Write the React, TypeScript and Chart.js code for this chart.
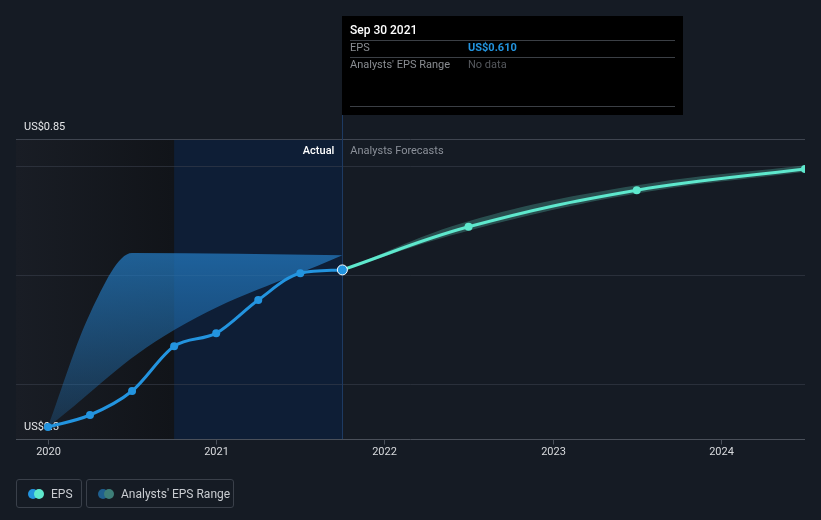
import React, { useEffect, useRef } from "react";
import { Chart, registerables } from "chart.js";

Chart.register(...registerables);

const actualX = [2020, 2020.25, 2020.5, 2020.75, 2021, 2021.25, 2021.5, 2021.75];
const actualEps = [0.322, 0.344, 0.388, 0.47, 0.494, 0.555, 0.604, 0.61];

const forecastX = [2021.75, 2022.5, 2023.5, 2024.5];
const forecastEps = [0.61, 0.689, 0.756, 0.795];
const forecastLow = [0.61, 0.682, 0.75, 0.79];
const forecastHigh = [0.61, 0.699, 0.765, 0.802];

const pastRangeX = [2020, 2020.25, 2020.5, 2021.75];
const pastRangeHigh = [0.322, 0.53, 0.641, 0.637];
const pastLowX = [2020, 2020.75, 2021.75];
const pastRangeLow = [0.322, 0.5, 0.637];

const yearTicks = [2020, 2021, 2022, 2023, 2024];
const gridValues = [0.4, 0.6, 0.8];
const yTop = 0.85;
const yBottom = 0.3;
const yTopLabel = "US$0.85";
const yBottomLabel = "US$0.3";
const xMin = 2019.81;
const xMax = 2024.5;
const highlightStart = 2020.75;
const lastActual = 2021.75;

const FONT = "Roboto, 'Open Sans', sans-serif";
const BLUE = "#2394df";
const TEAL = "#5ee8cd";

const pts = (xs: number[], ys: number[]) => xs.map((x, i) => ({ x, y: ys[i] }));

const bgPlugin = {
  id: "bgPlugin",
  beforeDatasetsDraw(chart: any) {
    const { ctx, chartArea, scales } = chart;
    const xs = scales.x;
    const ys = scales.y;
    const top = chartArea.top;
    const bottom = chartArea.bottom;
    const xl = chartArea.left;
    const xh = xs.getPixelForValue(highlightStart);
    const xa = xs.getPixelForValue(lastActual);
    ctx.save();
    const g = ctx.createLinearGradient(xl, 0, xh, 0);
    g.addColorStop(0, "rgba(25,29,37,1)");
    g.addColorStop(1, "rgba(17,20,25,1)");
    ctx.fillStyle = g;
    ctx.fillRect(xl, top, xh - xl, bottom - top);
    ctx.fillStyle = "#0e1e36";
    ctx.fillRect(xh, top, xa - xh, bottom - top);
    ctx.lineWidth = 1;
    gridValues.forEach((v) => {
      const y = Math.round(ys.getPixelForValue(v)) + 0.5;
      ctx.strokeStyle = "rgba(60,66,78,0.55)";
      ctx.beginPath();
      ctx.moveTo(xl, y);
      ctx.lineTo(chartArea.right, y);
      ctx.stroke();
    });
    const yt = Math.round(ys.getPixelForValue(yTop)) + 0.5;
    ctx.strokeStyle = "#3f4550";
    ctx.beginPath();
    ctx.moveTo(xl, yt);
    ctx.lineTo(chartArea.right, yt);
    ctx.stroke();
    const yb = Math.round(ys.getPixelForValue(yBottom)) + 0.5;
    ctx.strokeStyle = "#4a505a";
    ctx.beginPath();
    ctx.moveTo(xl, yb);
    ctx.lineTo(chartArea.right, yb);
    ctx.stroke();
    ctx.fillStyle = "#d8dadd";
    ctx.font = `11px ${FONT}`;
    ctx.textAlign = "center";
    ctx.textBaseline = "middle";
    yearTicks.forEach((t) => {
      const x = Math.round(xs.getPixelForValue(t)) + 0.5;
      ctx.strokeStyle = "#4a505a";
      ctx.beginPath();
      ctx.moveTo(x, yb);
      ctx.lineTo(x, yb + 5);
      ctx.stroke();
      ctx.fillText(String(t), x, 452);
    });
    const xv = Math.round(xa) + 0.5;
    ctx.strokeStyle = "#1d3a62";
    ctx.beginPath();
    ctx.moveTo(xv, 115);
    ctx.lineTo(xv, bottom);
    ctx.stroke();
    ctx.font = `500 11px ${FONT}`;
    ctx.textAlign = "right";
    ctx.fillStyle = "#ffffff";
    ctx.fillText("Actual", xa - 8, 151);
    ctx.textAlign = "left";
    ctx.font = `11px ${FONT}`;
    ctx.fillStyle = "#8b9099";
    ctx.fillText("Analysts Forecasts", xa + 8, 151);
    ctx.fillStyle = "#e6e7e9";
    ctx.textAlign = "left";
    ctx.font = `11px ${FONT}`;
    ctx.fillText(yTopLabel, 24, ys.getPixelForValue(yTop) - 12);
    ctx.fillText(yBottomLabel, 24, ys.getPixelForValue(yBottom) - 12);
    ctx.restore();
  },
  afterDraw(chart: any) {
    const { ctx, scales } = chart;
    const xa = scales.x.getPixelForValue(lastActual);
    ctx.save();
    const bx = Math.round(xa);
    ctx.fillStyle = "#000000";
    ctx.fillRect(bx, 16, 683 - bx, 99);
    ctx.textBaseline = "middle";
    ctx.textAlign = "left";
    ctx.font = `500 12px ${FONT}`;
    ctx.fillStyle = "#ffffff";
    ctx.fillText("Sep 30 2021", bx + 8, 31);
    ctx.strokeStyle = "#3b3f45";
    ctx.lineWidth = 1;
    [40.5, 57.5, 106.5].forEach((y) => {
      ctx.beginPath();
      ctx.moveTo(bx + 8, y);
      ctx.lineTo(675, y);
      ctx.stroke();
    });
    ctx.font = `11px ${FONT}`;
    ctx.fillStyle = "#8a8d92";
    ctx.fillText("EPS", bx + 8, 48);
    ctx.fillText("Analysts' EPS Range", bx + 8, 65);
    ctx.font = `bold 11px ${FONT}`;
    ctx.fillStyle = BLUE;
    ctx.fillText("US$" + actualEps[actualEps.length - 1].toFixed(3), 468, 48);
    ctx.font = `11px ${FONT}`;
    ctx.fillStyle = "#55585d";
    ctx.fillText("No data", 468, 65);
    ctx.restore();
  },
};

export default function App() {
  const ref = useRef<HTMLCanvasElement | null>(null);
  useEffect(() => {
    const canvas = ref.current!;
    const ctx = canvas.getContext("2d")!;
    const grad = ctx.createLinearGradient(0, 253, 0, 427);
    grad.addColorStop(0, "rgba(35,120,190,0.75)");
    grad.addColorStop(1, "rgba(35,120,190,0.25)");
    const chart = new Chart(canvas, {
      type: "line",
      data: {
        datasets: [
          {
            data: pts(actualX, actualEps),
            borderColor: BLUE,
            backgroundColor: BLUE,
            borderWidth: 3,
            pointRadius: actualX.map((_, i) => (i === actualX.length - 1 ? 5 : 4)),
            pointBorderColor: actualX.map((_, i) => (i === actualX.length - 1 ? "#ffffff" : BLUE)),
            pointBorderWidth: actualX.map((_, i) => (i === actualX.length - 1 ? 1 : 0)),
            cubicInterpolationMode: "monotone",
            fill: false,
            order: 1,
          },
          {
            data: pts(forecastX, forecastEps),
            borderColor: TEAL,
            backgroundColor: TEAL,
            borderWidth: 3,
            pointRadius: forecastX.map((_, i) => (i === 0 ? 0 : 4)),
            pointBorderWidth: 0,
            tension: 0.4,
            fill: false,
            order: 2,
          },
          {
            data: pts(forecastX, forecastHigh),
            borderColor: "transparent",
            backgroundColor: "rgba(88,200,180,0.3)",
            pointRadius: 0,
            borderWidth: 0,
            tension: 0.4,
            fill: "+1",
            order: 3,
          },
          {
            data: pts(forecastX, forecastLow),
            borderColor: "transparent",
            pointRadius: 0,
            borderWidth: 0,
            tension: 0.4,
            fill: false,
            order: 4,
          },
          {
            data: pts(pastRangeX, pastRangeHigh),
            borderColor: "transparent",
            backgroundColor: grad,
            pointRadius: 0,
            borderWidth: 0,
            cubicInterpolationMode: "monotone",
            fill: "+1",
            order: 5,
          },
          {
            data: pts(pastLowX, pastRangeLow),
            borderColor: "transparent",
            pointRadius: 0,
            borderWidth: 0,
            tension: 0.4,
            fill: false,
            order: 6,
          },
        ],
      },
      options: {
        animation: false,
        responsive: false,
        maintainAspectRatio: false,
        parsing: false as any,
        layout: { padding: { left: 16, right: 16, top: 139, bottom: 81 } },
        plugins: { legend: { display: false }, tooltip: { enabled: false } },
        scales: {
          x: { type: "linear", min: xMin, max: xMax, display: false },
          y: { type: "linear", min: yBottom, max: yTop, display: false },
        },
      },
      plugins: [bgPlugin],
    });
    return () => chart.destroy();
  }, []);

  const legendBox: React.CSSProperties = {
    position: "absolute",
    top: 479,
    height: 29,
    border: "1px solid #3a404a",
    borderRadius: 3,
    boxSizing: "border-box",
    display: "flex",
    alignItems: "center",
    color: "#c9ccd1",
    fontFamily: FONT,
    fontSize: 12,
  };
  const dot = (c: string, left: number): React.CSSProperties => ({
    position: "absolute",
    left,
    top: 9,
    width: 10,
    height: 10,
    borderRadius: 5,
    background: c,
  });

  return (
    <div style={{ position: "fixed", left: 0, top: 0, width: 821, height: 520, background: "#151b24", overflow: "hidden" }}>
      <canvas ref={ref} width={821} height={520} style={{ position: "absolute", left: 0, top: 0 }} />
      <div style={{ ...legendBox, left: 16, width: 66 }}>
        <span style={dot(BLUE, 11)} />
        <span style={dot(TEAL, 17)} />
        <span style={{ position: "absolute", left: 34 }}>EPS</span>
      </div>
      <div style={{ ...legendBox, left: 86, width: 148 }}>
        <span style={dot("#1f5f8e", 11)} />
        <span style={dot("#3d7e78", 17)} />
        <span style={{ position: "absolute", left: 34 }}>Analysts' EPS Range</span>
      </div>
    </div>
  );
}
